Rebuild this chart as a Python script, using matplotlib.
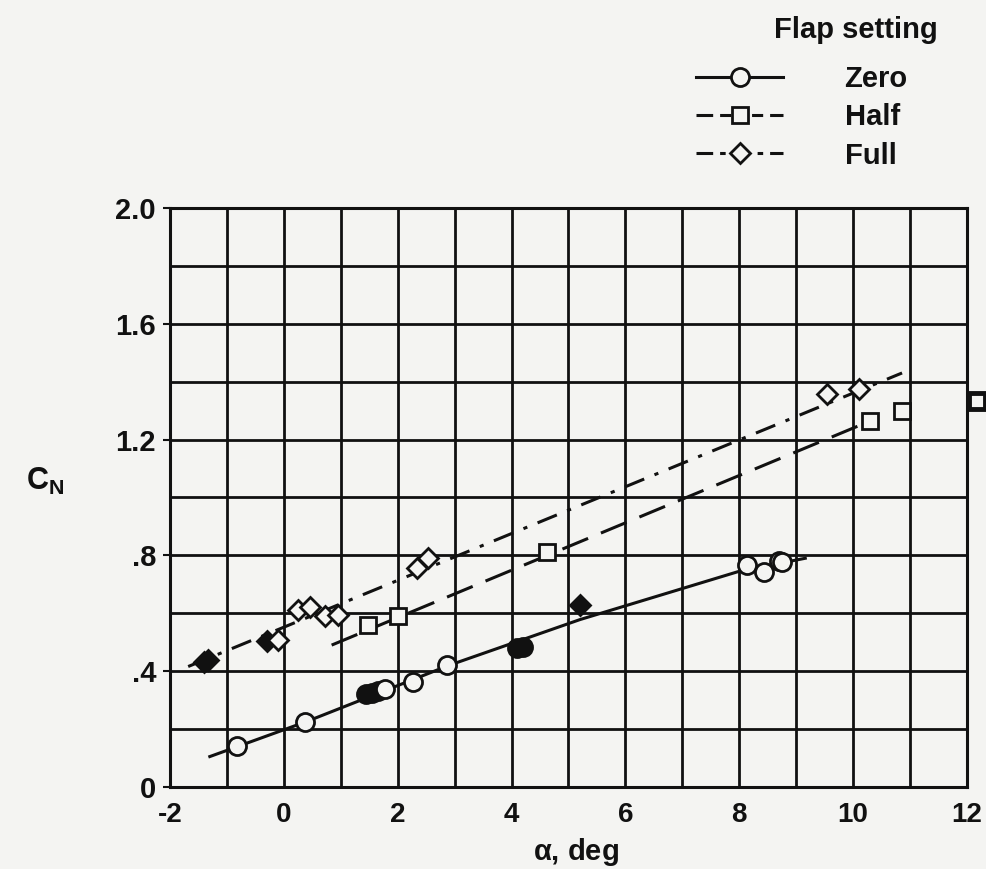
import numpy as np
import matplotlib.pyplot as plt
from matplotlib.lines import Line2D
from matplotlib.ticker import MultipleLocator, FuncFormatter

plt.rcParams['font.family'] = ['Liberation Sans', 'DejaVu Sans']
plt.rcParams['font.weight'] = 'bold'
plt.rcParams['axes.labelweight'] = 'bold'
plt.rcParams['mathtext.fontset'] = 'custom'
plt.rcParams['mathtext.rm'] = 'Liberation Sans:bold'
plt.rcParams['lines.scale_dashes'] = False

# normal-force coefficient vs angle of attack, three flap settings
zero_alpha = [-0.83, 0.37, 1.45, 1.55, 1.65, 1.78, 2.27, 2.86, 4.10, 4.20, 8.13, 8.43, 8.69, 8.75]
zero_cn = [0.140, 0.226, 0.320, 0.326, 0.332, 0.340, 0.364, 0.420, 0.480, 0.482, 0.768, 0.742, 0.780, 0.776]
zero_solid = [False, False, True, True, True, False, False, False, True, True, False, False, False, False]

half_alpha = [1.48, 2.01, 4.62, 10.30, 10.86, 12.17]
half_cn = [0.560, 0.590, 0.810, 1.264, 1.300, 1.333]
half_solid = [False, False, False, False, False, False]

full_alpha = [-1.40, -1.33, -0.30, -0.10, 0.25, 0.46, 0.72, 0.96, 2.34, 2.54, 5.20, 9.54, 10.10]
full_cn = [0.430, 0.440, 0.503, 0.509, 0.612, 0.622, 0.589, 0.595, 0.757, 0.790, 0.630, 1.356, 1.376]
full_solid = [True, True, True, False, False, False, False, False, False, False, True, False, False]

# faired curves
zero_fair_alpha = [-1.30, 0.40, 2.90, 5.20, 8.00, 9.16]
zero_fair_cn = [0.105, 0.226, 0.420, 0.578, 0.745, 0.790]
half_fair_alpha = [0.84, 10.25]
half_fair_cn = [0.490, 1.260]
full_fair_alpha = [-1.68, 10.86]
full_fair_cn = [0.416, 1.430]

ink = '#111111'
paper = '#f4f4f2'

fig = plt.figure(figsize=(9.87, 8.69), dpi=100, facecolor=paper)
ax = fig.add_axes([0.1722, 0.0944, 0.8075, 0.6663], facecolor=paper)

styles = {
    'Zero': dict(ls='-', marker='o', ms=13, key='-'),
    'Half': dict(ls=(0, (20, 10)), marker='s', ms=12, key=(0, (12, 5, 8, 15, 8, 5, 12))),
    'Full': dict(ls=(0, (15, 8, 3, 8)), marker='D', ms=10, key=(0, (12, 5, 4, 23, 4, 5, 12))),
}

ax.plot(zero_fair_alpha, zero_fair_cn, color=ink, lw=2.2, ls=styles['Zero']['ls'], zorder=3)
ax.plot(half_fair_alpha, half_fair_cn, color=ink, lw=2.2, ls=styles['Half']['ls'], zorder=3)
ax.plot(full_fair_alpha, full_fair_cn, color=ink, lw=2.2, ls=styles['Full']['ls'], zorder=3)

def points(xs, ys, solid, marker, ms, mew=2.0):
    for x, y, s in zip(xs, ys, solid):
        ax.plot(x, y, marker=marker, ms=ms, mec=ink, mew=mew,
                mfc=ink if s else paper, ls='none', zorder=4, clip_on=False)

points(zero_alpha, zero_cn, zero_solid, 'o', styles['Zero']['ms'])
points(half_alpha[:-1], half_cn[:-1], half_solid[:-1], 's', styles['Half']['ms'])
# last half-flap point sits past the frame, drawn heavier
points(half_alpha[-1:], half_cn[-1:], half_solid[-1:], 's', 11, mew=3.5)
points(full_alpha, full_cn, full_solid, 'D', styles['Full']['ms'])

ax.set_xlim(-2, 12)
ax.set_ylim(0, 2.0)
ax.xaxis.set_major_locator(MultipleLocator(2))
ax.xaxis.set_minor_locator(MultipleLocator(1))
ax.yaxis.set_major_locator(MultipleLocator(0.4))
ax.yaxis.set_minor_locator(MultipleLocator(0.2))

def ylab(v, pos):
    if abs(v) < 1e-9:
        return '0'
    s = '%.1f' % v
    return s[1:] if s.startswith('0') else s

ax.yaxis.set_major_formatter(FuncFormatter(ylab))
ax.xaxis.set_major_formatter(FuncFormatter(lambda v, p: '%d' % v))

ax.grid(which='both', color=ink, lw=2.0)
ax.set_axisbelow(True)
for sp in ax.spines.values():
    sp.set_color(ink)
    sp.set_linewidth(2.2)

ax.tick_params(axis='x', which='both', length=0, pad=11, labelsize=20, colors=ink)
ax.tick_params(axis='y', which='major', length=5, width=1.5, pad=5, labelsize=21, colors=ink)
ax.tick_params(axis='y', which='minor', length=0)

ax.set_xlabel(r'$\mathregular{\alpha}$, deg', fontsize=21, color=ink)
ax.xaxis.set_label_coords(0.51, -0.085)
ax.set_ylabel(r'C$_\mathregular{N}$', fontsize=22, color=ink, rotation=0)
ax.yaxis.set_label_coords(-0.157, 0.50)

handles = [
    Line2D([], [], color=ink, lw=2.2, ls=styles[k]['key'], marker=styles[k]['marker'],
           ms=styles[k]['ms'] * 1.0, mec=ink, mfc=paper, mew=2.0, markevery=[1])
    for k in ['Zero', 'Half', 'Full']
]
leg = fig.legend(handles, ['Zero', 'Half', 'Full'], loc='upper left',
                 bbox_to_anchor=(0.705, 0.925), frameon=False, fontsize=21,
                 handlelength=3.0, handletextpad=2.1, labelspacing=0.35,
                 borderpad=0, borderaxespad=0)
for t in leg.get_texts():
    t.set_color(ink)
fig.text(0.950, 0.965, 'Flap setting', fontsize=21, color=ink, ha='right', va='center')

plt.savefig('out.png', dpi=100, facecolor=paper)
